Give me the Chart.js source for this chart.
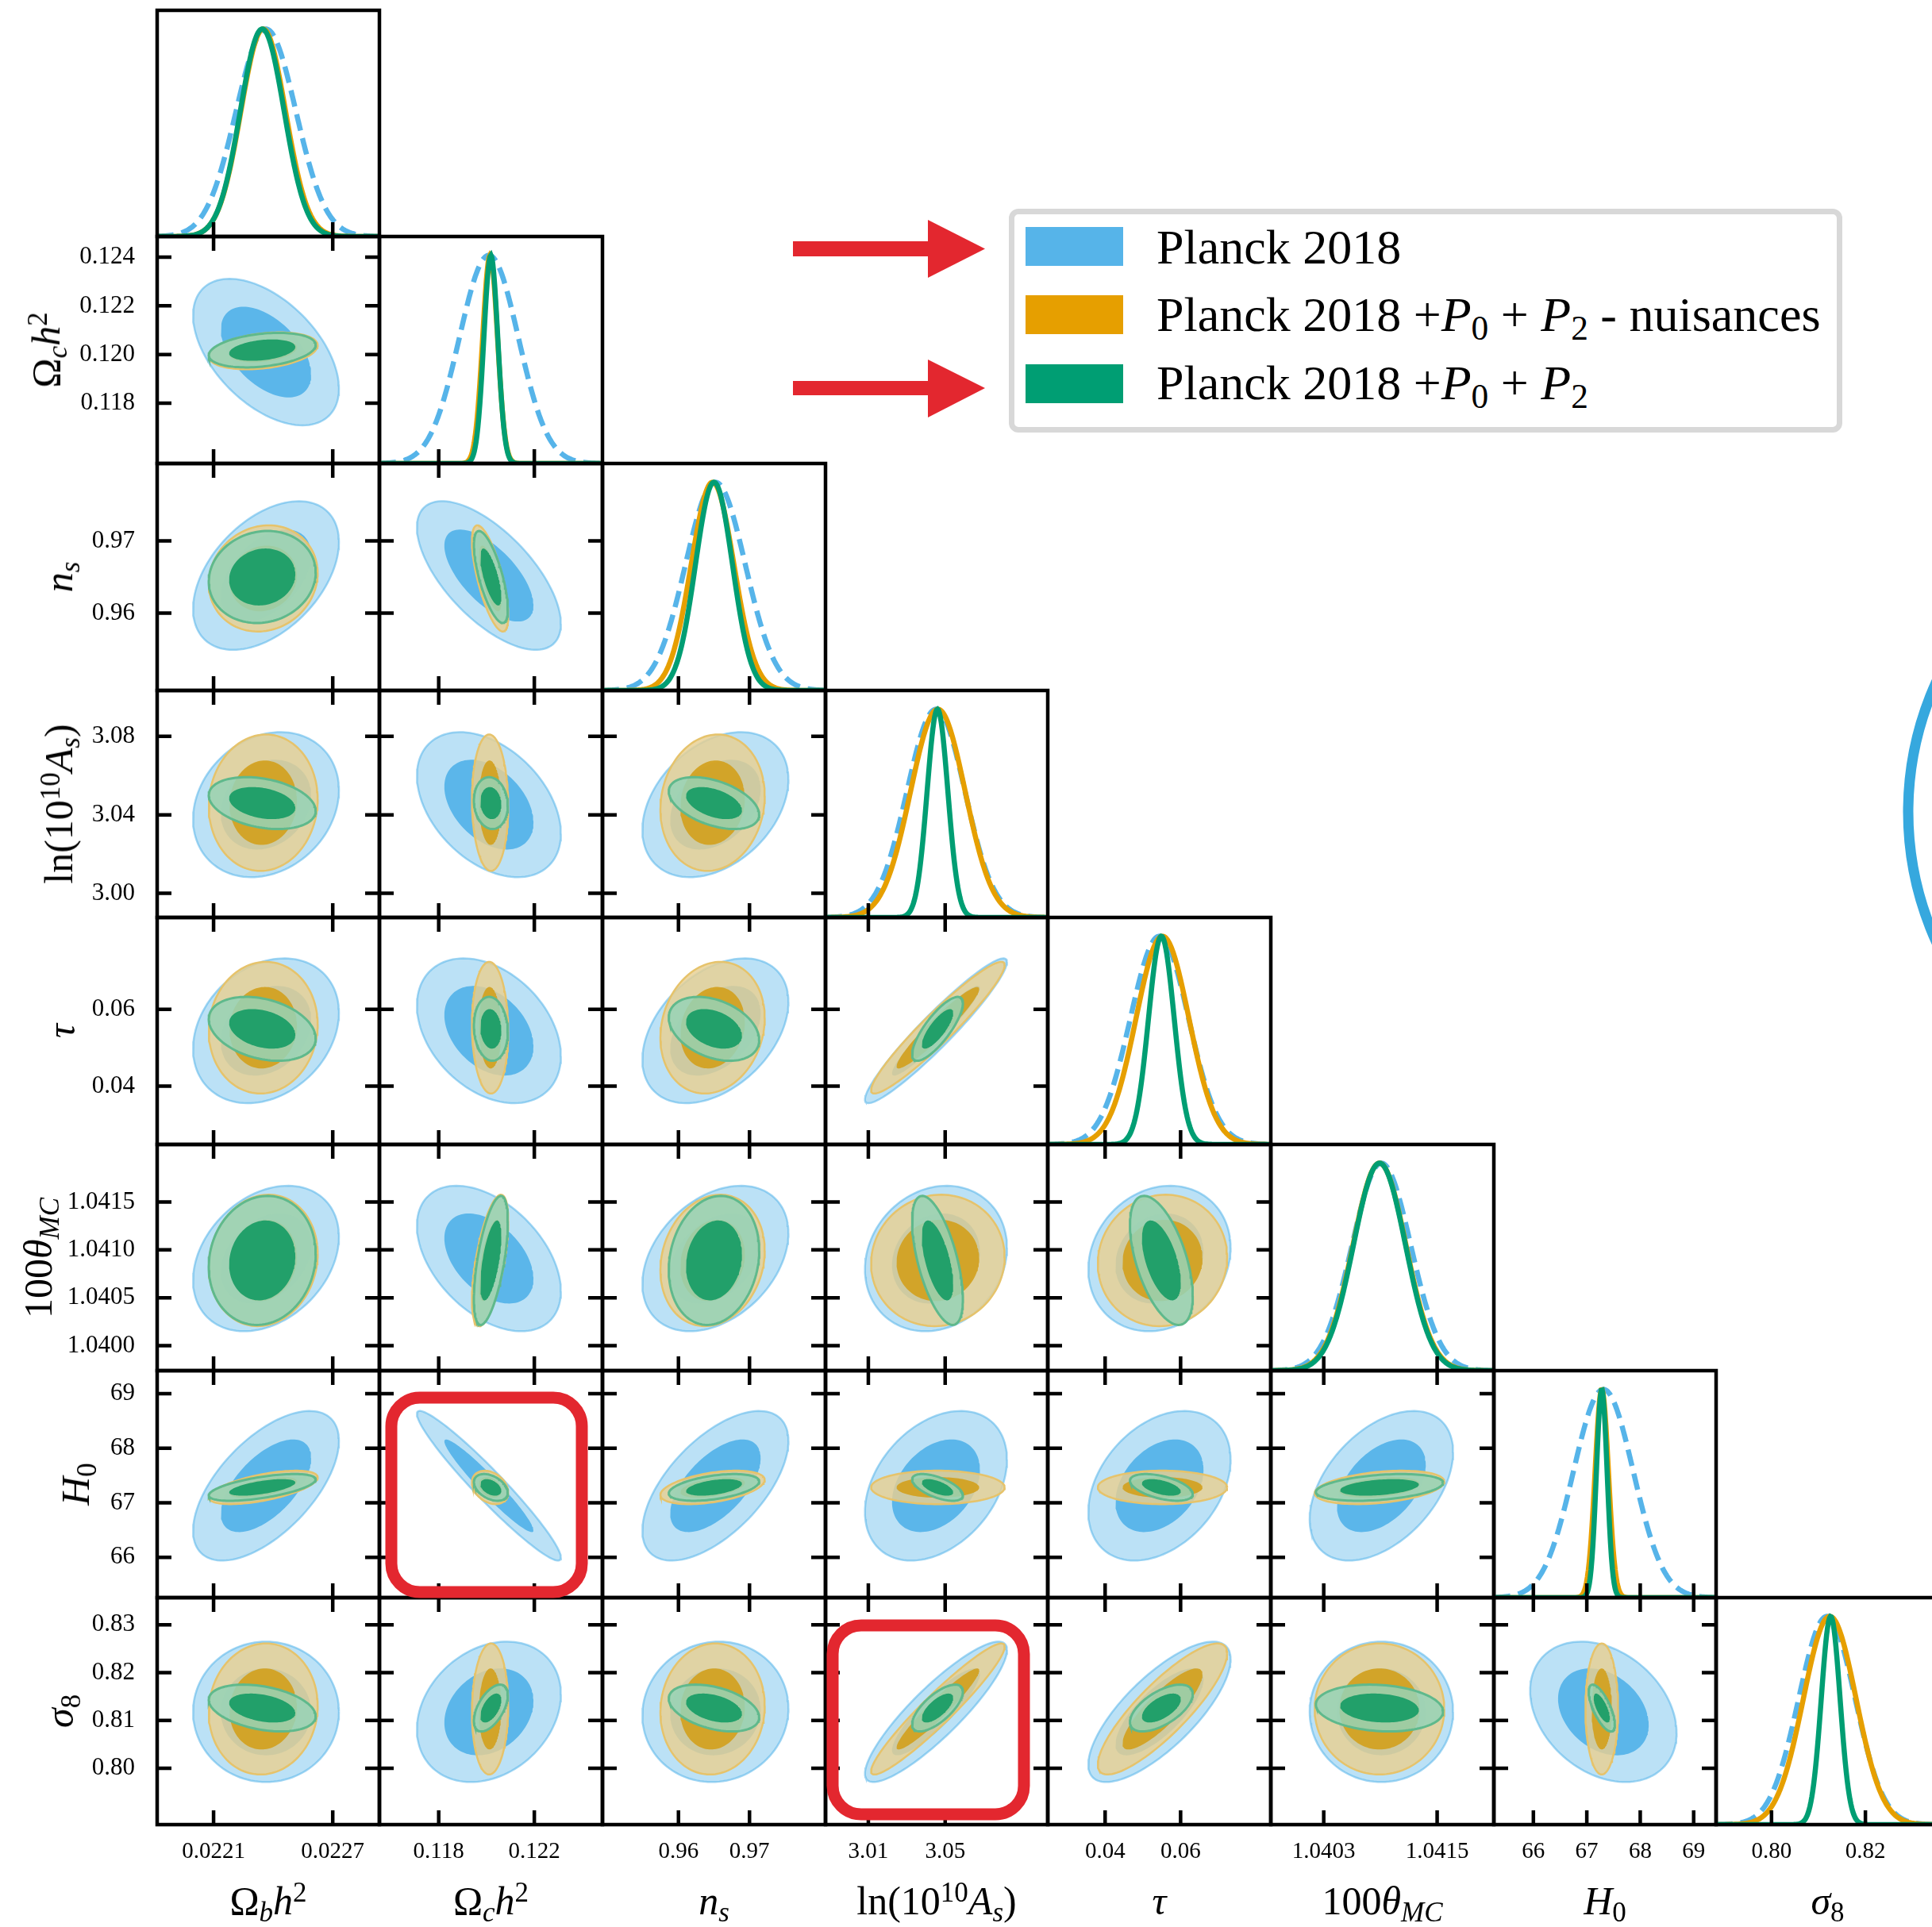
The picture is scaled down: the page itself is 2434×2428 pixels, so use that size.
<!DOCTYPE html>
<html lang="en">
<head>
<meta charset="UTF-8">
<title>Triangle plot</title>
<style>
  html, body { margin: 0; padding: 0; background: #fff; }
  body { width: 2434px; height: 2428px; position: relative; overflow: hidden; font-family: "Liberation Serif", serif; color: #000; }
  canvas { position: absolute; }
  .xlab, .ylab { position: absolute; font-size: 50px; line-height: 1; white-space: nowrap; }
  .xlab { transform: translate(-50%, -50%); }
  .ylab { transform: translate(-50%, -50%) rotate(-90deg); }
  sub, sup { font-size: 70%; line-height: 0; }
  sub { vertical-align: -0.25em; }
  sup { vertical-align: 0.45em; }
  #legend { position: absolute; left: 1271px; top: 263px; width: 1050px; height: 282px; box-sizing: border-box;
            border: 7px solid #d8d8d8; border-radius: 12px; background: #fff; }
  .sw { position: absolute; width: 123px; height: 49px; }
  .lt { position: absolute; font-size: 62px; line-height: 1; white-space: nowrap; }
  #marks { position: absolute; left: 0; top: 0; pointer-events: none; }
</style>
<script src="https://cdn.jsdelivr.net/npm/chart.js"></script>
</head>
<body>
<div id="grid"></div>
<svg id="marks" width="2434" height="2428">
  <g fill="#e3272f">
    <rect x="999" y="304" width="172" height="19"/>
    <polygon points="1169,277 1241,313.5 1169,350"/>
    <rect x="999" y="480" width="172" height="18"/>
    <polygon points="1169,453 1241,489 1169,526"/>
  </g>
  <g fill="none" stroke="#e3272f" stroke-width="15">
    <rect x="493" y="1761" width="240" height="245" rx="36"/>
    <rect x="1049" y="2048" width="241" height="238" rx="36"/>
  </g>
  <circle cx="2800" cy="1023" r="396" fill="none" stroke="#36a8de" stroke-width="13"/>
</svg>
<div id="legend"></div>
<div id="labels"></div>
<script>
// ---- data ----
const paramLabels = [
  'Ω<sub><i>b</i></sub><i>h</i><sup>2</sup>',
  'Ω<sub><i>c</i></sub><i>h</i><sup>2</sup>',
  '<i>n</i><sub><i>s</i></sub>',
  'ln(10<sup>10</sup><i>A</i><sub><i>s</i></sub>)',
  '<i>τ</i>',
  '100<i>θ</i><sub><i>MC</i></sub>',
  '<i>H</i><sub>0</sub>',
  '<i>σ</i><sub>8</sub>'
];
const axisMin = [0.021816, 0.11552, 0.9493, 2.9877, 0.0248, 1.03974, 65.26, 0.7882];
const axisMax = [0.022935, 0.12485, 0.9807, 3.1034, 0.0839, 1.04210, 69.42, 0.8357];

const xTickValues = [[0.0221, 0.0227], [0.118, 0.122], [0.96, 0.97], [3.01, 3.05], [0.04, 0.06], [1.0403, 1.0415], [66, 67, 68, 69], [0.80, 0.82]];
const xTickLabels = [['0.0221', '0.0227'], ['0.118', '0.122'], ['0.96', '0.97'], ['3.01', '3.05'], ['0.04', '0.06'], ['1.0403', '1.0415'], ['66', '67', '68', '69'], ['0.80', '0.82']];
const yTickValues = [[], [0.118, 0.120, 0.122, 0.124], [0.96, 0.97], [3.00, 3.04, 3.08], [0.04, 0.06], [1.0400, 1.0405, 1.0410, 1.0415], [66, 67, 68, 69], [0.80, 0.81, 0.82, 0.83]];
const yTickLabels = [[], ['0.118', '0.120', '0.122', '0.124'], ['0.96', '0.97'], ['3.00', '3.04', '3.08'], ['0.04', '0.06'], ['1.0400', '1.0405', '1.0410', '1.0415'], ['66', '67', '68', '69'], ['0.80', '0.81', '0.82', '0.83']];

const seriesNames = [
  'Planck 2018',
  'Planck 2018 +<i>P</i><sub>0</sub> + <i>P</i><sub>2</sub> - nuisances',
  'Planck 2018 +<i>P</i><sub>0</sub> + <i>P</i><sub>2</sub>'
];

// marginal means and widths, per chain, in parameter order
const planckMean  = [0.022364, 0.12010, 0.9652, 3.0452, 0.0544, 1.04091, 67.31, 0.8118];
const planckSigma = [0.000150, 0.00123, 0.0042, 0.0151, 0.0077, 0.000310, 0.56, 0.0060];
const nuisMean    = [0.022350, 0.12015, 0.9648, 3.0462, 0.0552, 1.04089, 67.28, 0.8124];
const nuisSigma   = [0.000112, 0.00031, 0.0030, 0.0142, 0.0070, 0.000280, 0.125, 0.0056];
const fullMean    = [0.022345, 0.12018, 0.9650, 3.0460, 0.0549, 1.04089, 67.28, 0.8126];
const fullSigma   = [0.000110, 0.00029, 0.0026, 0.0054, 0.0034, 0.000275, 0.10, 0.0020];

// correlations, row r holds (r, 0..r-1)
const planckCorr = [
  [],
  [-0.50],
  [0.45, -0.65],
  [0.20, -0.40, 0.35],
  [0.25, -0.35, 0.40, 0.95],
  [0.30, -0.45, 0.35, 0.15, 0.15],
  [0.60, -0.96, 0.60, 0.35, 0.35, 0.45],
  [0.00, 0.25, 0.05, 0.88, 0.75, 0.00, -0.30]
];
const nuisCorr = [
  [],
  [0.30],
  [0.10, -0.70],
  [0.05, -0.05, 0.10],
  [0.05, -0.05, 0.15, 0.95],
  [0.10, 0.60, 0.15, 0.05, 0.05],
  [0.60, -0.30, 0.45, 0.00, 0.00, 0.35],
  [0.05, 0.05, 0.05, 0.95, 0.85, 0.00, 0.00]
];
const fullCorr = [
  [],
  [0.30],
  [0.10, -0.70],
  [-0.30, -0.10, -0.45],
  [-0.30, -0.10, -0.35, 0.80],
  [0.10, 0.60, 0.15, -0.60, -0.55],
  [0.60, -0.40, 0.45, -0.60, -0.50, 0.35],
  [-0.35, 0.55, -0.40, 0.70, 0.60, -0.15, -0.70]
];

const seriesColors = ['#56b4e9', '#e69f00', '#009e73'];

// ---- styling ----
const chains = [
  { mean: planckMean, sigma: planckSigma, corr: planckCorr, line: '#56b4e9', dash: [21, 10],
    outerFill: 'rgba(86,180,233,0.40)', outerEdge: 'rgba(86,180,233,0.55)', edgeWidth: 2.5, innerFill: 'rgba(86,180,233,0.95)' },
  { mean: nuisMean, sigma: nuisSigma, corr: nuisCorr, line: '#e69f00', dash: [],
    outerFill: 'rgba(232,208,145,0.82)', outerEdge: '#e6c36b', edgeWidth: 2.5, innerFill: 'rgba(211,161,30,0.92)' },
  { mean: fullMean, sigma: fullSigma, corr: fullCorr, line: '#009e73', dash: [],
    outerFill: 'rgba(151,211,183,0.85)', outerEdge: '#5fb98c', edgeWidth: 3, innerFill: '#22a06a' }
];

const N = 8;
const GRID_LEFT = 197.5, GRID_TOP = 12.5, CELL_W = 280.7, CELL_H = 285.8;
const M = 8;          // spare margin round each panel
const AXIS_H = 80;    // room for bottom tick labels
const TICK = 18;
const R68 = 1.515, R95 = 2.448;
const colEdge = i => Math.round(GRID_LEFT + CELL_W * i);
const rowEdge = i => Math.round(GRID_TOP + CELL_H * i);

Chart.defaults.font.family = 'Liberation Serif';
Chart.defaults.color = '#000';

function gaussCurve(mu, sig, lo, hi) {
  const pts = [];
  for (let i = 0; i <= 240; i++) {
    const x = lo + (hi - lo) * i / 240;
    const z = (x - mu) / sig;
    pts.push({ x: x, y: Math.exp(-0.5 * z * z) });
  }
  return pts;
}

function ellipse(mx, sx, my, sy, rho, r) {
  const pts = [];
  const k = Math.sqrt(1 - rho * rho);
  for (let i = 0; i <= 120; i++) {
    const t = 2 * Math.PI * i / 120;
    pts.push({ x: mx + r * sx * Math.cos(t), y: my + r * sy * (rho * Math.cos(t) + k * Math.sin(t)) });
  }
  return pts;
}

const framePlugin = {
  id: 'frame',
  afterDraw(chart, args, opts) {
    const { ctx, chartArea: a } = chart;
    const x = chart.scales.x, y = chart.scales.y;
    ctx.save();
    ctx.strokeStyle = '#000';
    ctx.lineWidth = 4.5;
    ctx.beginPath();
    for (const v of opts.xTicks) {
      const px = x.getPixelForValue(v);
      ctx.moveTo(px, a.bottom); ctx.lineTo(px, a.bottom - TICK);
      if (opts.allSides) { ctx.moveTo(px, a.top); ctx.lineTo(px, a.top + TICK); }
    }
    for (const v of opts.yTicks) {
      const py = y.getPixelForValue(v);
      ctx.moveTo(a.left, py); ctx.lineTo(a.left + TICK, py);
      ctx.moveTo(a.right, py); ctx.lineTo(a.right - TICK, py);
    }
    ctx.stroke();
    ctx.strokeRect(a.left, a.top, a.right - a.left, a.bottom - a.top);
    ctx.restore();
  }
};

function zeroPad(ax) {
  ax.paddingLeft = 0; ax.paddingRight = 0; ax.paddingTop = 0; ax.paddingBottom = 0;
}

function makePanel(r, c) {
  const diag = r === c;
  const left = colEdge(c), right = colEdge(c + 1), top = rowEdge(r), bottom = rowEdge(r + 1);
  const showY = c === 0 && r > 0;
  const showX = r === N - 1;
  const padL = showY ? left : M;
  const padB = showX ? AXIS_H : M;

  const cv = document.createElement('canvas');
  cv.width = right - left + padL + M;
  cv.height = bottom - top + M + padB;
  cv.style.left = (left - padL) + 'px';
  cv.style.top = (top - M) + 'px';
  document.getElementById('grid').appendChild(cv);

  const datasets = [];
  if (diag) {
    chains.forEach((ch, k) => {
      datasets.push({
        data: gaussCurve(ch.mean[c], ch.sigma[c], axisMin[c], axisMax[c]),
        borderColor: ch.line, borderWidth: 6.5, borderDash: ch.dash,
        fill: false, pointRadius: 0, order: 10 - k
      });
    });
  } else {
    chains.forEach((ch, k) => {
      const rho = ch.corr[r][c];
      const a = [ch.mean[c], ch.sigma[c], ch.mean[r], ch.sigma[r], rho];
      datasets.push({
        data: ellipse(...a, R95), fill: 'shape', backgroundColor: ch.outerFill,
        borderColor: ch.outerEdge, borderWidth: ch.edgeWidth, pointRadius: 0, order: 20 - 2 * k
      });
      datasets.push({
        data: ellipse(...a, R68), fill: 'shape', backgroundColor: ch.innerFill,
        borderWidth: 0, pointRadius: 0, order: 19 - 2 * k
      });
    });
  }

  new Chart(cv, {
    type: 'line',
    data: { datasets: datasets },
    options: {
      responsive: false,
      animation: false,
      devicePixelRatio: 1,
      events: [],
      layout: { padding: { left: showY ? 0 : M, right: M, top: M, bottom: showX ? 0 : M } },
      elements: { line: { tension: 0 } },
      plugins: {
        legend: { display: false },
        tooltip: { enabled: false },
        frame: { xTicks: xTickValues[c], yTicks: diag ? [] : yTickValues[r], allSides: !diag }
      },
      scales: {
        x: {
          type: 'linear', min: axisMin[c], max: axisMax[c], display: showX,
          grid: { display: false }, border: { display: false },
          ticks: { font: { size: 29 }, color: '#000', padding: 9, maxRotation: 0, minRotation: 0, autoSkip: false,
                   callback: (v, i) => xTickLabels[c][i] },
          afterBuildTicks: ax => { ax.ticks = xTickValues[c].map(v => ({ value: v })); },
          afterFit: ax => { ax.height = showX ? AXIS_H : 0; zeroPad(ax); }
        },
        y: {
          type: 'linear', min: diag ? 0 : axisMin[r], max: diag ? 1.09 : axisMax[r], display: showY,
          grid: { display: false }, border: { display: false },
          ticks: { font: { size: 31 }, color: '#000', padding: 20, autoSkip: false,
                   callback: (v, i) => yTickLabels[r][i] },
          afterBuildTicks: ax => { ax.ticks = (diag ? [] : yTickValues[r]).map(v => ({ value: v })); },
          afterFit: ax => { ax.width = showY ? left : 0; zeroPad(ax); }
        }
      }
    },
    plugins: [framePlugin]
  });
}

for (let r = 0; r < N; r++) {
  for (let c = 0; c <= r; c++) makePanel(r, c);
}

// axis titles
const labels = document.getElementById('labels');
const yLabelX = [0, 58, 73.5, 74, 76.5, 48, 95, 75];
for (let i = 0; i < N; i++) {
  const xl = document.createElement('div');
  xl.className = 'xlab';
  xl.innerHTML = paramLabels[i];
  xl.style.left = ((colEdge(i) + colEdge(i + 1)) / 2) + 'px';
  xl.style.top = '2395px';
  labels.appendChild(xl);
  if (i > 0) {
    const yl = document.createElement('div');
    yl.className = 'ylab';
    yl.innerHTML = paramLabels[i];
    yl.style.left = yLabelX[i] + 'px';
    yl.style.top = ((rowEdge(i) + rowEdge(i + 1)) / 2) + 'px';
    labels.appendChild(yl);
  }
}

// legend
const legend = document.getElementById('legend');
const swTop = [286, 372, 459];
const textTop = [280, 365, 451];
seriesNames.forEach((name, k) => {
  const sw = document.createElement('div');
  sw.className = 'sw';
  sw.style.background = seriesColors[k];
  sw.style.left = (1292 - 1271 - 7) + 'px';
  sw.style.top = (swTop[k] - 263 - 7) + 'px';
  legend.appendChild(sw);
  const t = document.createElement('div');
  t.className = 'lt';
  t.innerHTML = name;
  t.style.left = (1457 - 1271 - 7) + 'px';
  t.style.top = (textTop[k] - 263 - 7) + 'px';
  legend.appendChild(t);
});
</script>
</body>
</html>
